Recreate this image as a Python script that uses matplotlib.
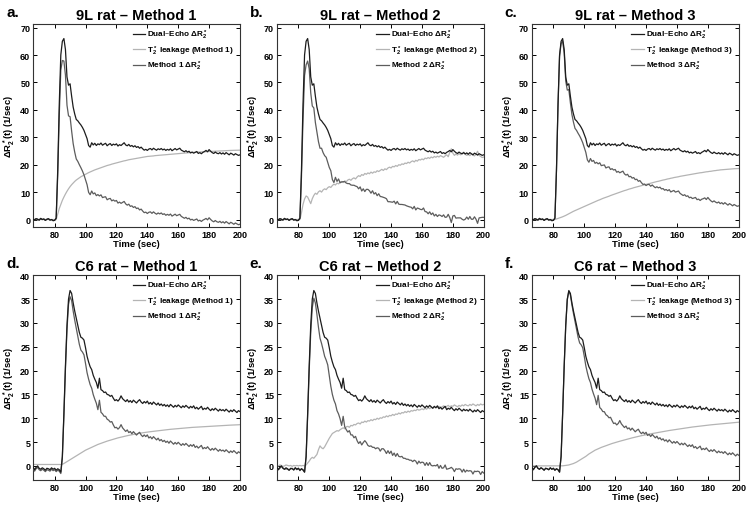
"""Dual-echo vs. corrected dR2* curves for 9L and C6 rats, three leakage methods."""
import numpy as np
import matplotlib
matplotlib.use("Agg")
import matplotlib.pyplot as plt

plt.rcParams['font.family'] = ['Liberation Sans', 'DejaVu Sans']
plt.rcParams['font.weight'] = 'bold'
plt.rcParams['axes.titleweight'] = 'bold'
plt.rcParams['axes.labelweight'] = 'bold'
plt.rcParams['mathtext.default'] = 'regular'

# sampling times (sec), one point per second
time_sec = np.arange(66, 201)

# dual-echo dR2* of the 9L rat (same curve in panels a-c)
dual_9l = np.array([
    0.2, -0.1, 0.3, 0.1, -0.2, 0.4, 0.0, 0.2, -0.3, 0.1, 0.3, -0.2, 0.0, -0.4,
    -0.3, 0.5, 18.0, 42.0, 60.0, 65.0, 66.0, 62.0, 52.0, 49.0,
    49.5, 45.0, 41.0, 38.5, 36.5, 36.0, 35.2, 34.5, 33.6, 32.5,
    31.0, 29.5, 27.0, 26.4, 28.0, 27.2, 27.8, 27.0, 27.6, 27.3,
    27.9, 27.1, 27.5, 27.8, 26.9, 27.4, 27.7, 27.0, 27.5, 27.2,
    27.6, 26.8, 27.3, 27.0, 27.5, 28.0, 27.2, 26.9, 27.4, 26.7,
    27.0, 26.5, 26.9, 26.3, 26.6, 26.0, 26.4, 25.8, 25.3, 25.6,
    25.2, 25.7, 25.9, 25.4, 26.0, 25.6, 25.3, 25.8, 25.5, 25.9,
    25.4, 25.7, 25.2, 25.6, 25.3, 25.8, 25.1, 25.5, 25.9, 25.4,
    25.7, 26.0, 25.3, 25.0, 24.7, 25.1, 24.6, 24.9, 24.3, 24.6,
    24.2, 24.5, 24.8, 24.1, 24.4, 24.0, 24.5, 24.8, 25.2, 24.7,
    25.5, 24.9, 24.4, 24.1, 24.6, 24.2, 24.0, 24.4, 23.9, 24.3,
    23.8, 24.4, 24.0, 23.6, 24.2, 23.9, 23.5, 24.0, 23.7, 23.4, 23.6])

# T2* leakage estimates, 9L rat
leak_9l_m1 = np.array([
    0, 0, 0, 0, 0, 0, 0, 0, 0, 0, 0, 0, 0, 0,
    0, 0, 2.0, 4.0, 5.5, 7.0, 8.2, 9.3, 10.3, 11.2,
    12.0, 12.7, 13.3, 13.9, 14.4, 14.8, 15.2, 15.6, 15.9, 16.2,
    16.5, 16.8, 17.1, 17.35, 17.6, 17.85, 18.1, 18.3, 18.5, 18.7,
    18.9, 19.1, 19.3, 19.5, 19.7, 19.85, 20.0, 20.2, 20.35, 20.5,
    20.65, 20.8, 20.95, 21.1, 21.25, 21.4, 21.5, 21.65, 21.8, 21.9,
    22.0, 22.1, 22.2, 22.3, 22.4, 22.5, 22.6, 22.7, 22.8, 22.9,
    23.0, 23.05, 23.1, 23.15, 23.2, 23.3, 23.35, 23.4, 23.45, 23.5,
    23.55, 23.6, 23.65, 23.7, 23.75, 23.8, 23.85, 23.9, 23.95, 24.0,
    24.05, 24.1, 24.15, 24.2, 24.25, 24.3, 24.35, 24.4, 24.45, 24.5,
    24.52, 24.55, 24.6, 24.62, 24.65, 24.7, 24.72, 24.75, 24.8, 24.82,
    24.85, 24.88, 24.9, 24.93, 24.96, 25.0, 25.02, 25.05, 25.08, 25.1,
    25.12, 25.14, 25.16, 25.18, 25.2, 25.22, 25.24, 25.26, 25.28, 25.3, 25.3])

leak_9l_m2 = np.array([
    0, 0, 0, 0, 0, 0, 0, 0, 0, 0, 0, 0, 0, 0,
    0, 0, 2.5, 5.5, 7.5, 8.6, 8.2, 7.0, 5.8, 7.6,
    8.8, 9.6, 9.2, 10.1, 10.5, 10.0, 10.8, 11.2, 10.9, 11.6,
    12.0, 11.7, 12.4, 12.9, 12.6, 13.3, 13.0, 13.6, 13.9, 13.5,
    14.1, 13.8, 14.4, 14.7, 14.3, 14.9, 15.2, 14.8, 15.5, 16.0,
    15.7, 16.4, 16.1, 16.8, 16.5, 17.0, 16.7, 17.3, 16.9, 17.4,
    17.2, 17.8, 17.5, 17.9, 18.3, 17.9, 18.5, 18.2, 18.8, 19.1,
    18.8, 19.4, 19.2, 19.7, 19.4, 20.0, 19.8, 20.3, 20.1, 20.6,
    20.4, 20.9, 20.6, 21.1, 21.4, 21.0, 21.6, 21.3, 21.9, 21.7,
    22.1, 21.8, 22.4, 22.2, 22.6, 22.3, 22.8, 22.5, 23.0, 22.7,
    23.1, 22.8, 23.3, 23.0, 22.7, 23.2, 23.6, 22.9, 24.5, 25.8,
    24.2, 23.4, 23.9, 23.5, 24.0, 23.6, 23.9, 24.6, 23.8, 23.4,
    23.7, 23.3, 23.9, 23.5, 23.2, 23.8, 24.9, 23.4, 23.0, 22.6, 22.8])

leak_9l_m3 = np.array([
    0, 0, 0, 0, 0, 0, 0, 0, 0, 0, 0, 0, 0, 0,
    0, 0, 0.2, 0.4, 0.6, 0.8, 1.0, 1.25, 1.5, 1.8,
    2.1, 2.4, 2.7, 3.0, 3.25, 3.5, 3.75, 4.0, 4.25, 4.5,
    4.75, 5.0, 5.25, 5.5, 5.75, 6.0, 6.25, 6.5, 6.75, 7.0,
    7.2, 7.45, 7.7, 7.9, 8.1, 8.3, 8.5, 8.75, 8.95, 9.15,
    9.35, 9.55, 9.75, 9.95, 10.15, 10.35, 10.55, 10.7, 10.9, 11.1,
    11.25, 11.4, 11.6, 11.75, 11.9, 12.05, 12.2, 12.35, 12.5, 12.65,
    12.8, 12.95, 13.1, 13.25, 13.4, 13.55, 13.7, 13.85, 13.95, 14.1,
    14.25, 14.4, 14.5, 14.65, 14.8, 14.9, 15.05, 15.15, 15.3, 15.4,
    15.5, 15.6, 15.75, 15.85, 15.95, 16.05, 16.15, 16.25, 16.35, 16.45,
    16.55, 16.65, 16.75, 16.85, 16.95, 17.05, 17.1, 17.2, 17.3, 17.4,
    17.45, 17.55, 17.6, 17.7, 17.8, 17.85, 17.95, 18.0, 18.1, 18.15,
    18.2, 18.25, 18.3, 18.35, 18.4, 18.45, 18.5, 18.52, 18.55, 18.58, 18.6])

# dual-echo dR2* of the C6 rat (same curve in panels d-f)
dual_c6 = np.array([
    -0.2, -0.8, -0.3, 0.0, -0.5, -0.7, -0.4, -0.6, -0.9, -0.5, -0.6, -0.8, -0.4, -0.7,
    -0.5, -0.9, -0.6, -0.8, -1.3, 2.0, 11.0, 21.0, 29.5, 35.0,
    36.8, 36.2, 34.2, 32.5, 31.0, 29.5, 28.0, 27.0, 26.8, 26.4,
    24.8, 23.0, 21.8, 20.8, 20.2, 19.0, 18.2, 17.5, 16.3, 18.4,
    16.0, 15.8, 15.4, 15.5, 15.0, 14.9, 14.6, 14.8, 14.2, 13.7,
    13.9, 13.6, 14.0, 14.7, 14.1, 13.8, 13.5, 13.9, 13.4, 13.7,
    13.3, 13.8, 13.5, 13.2, 13.6, 13.9, 13.4, 13.1, 13.5, 13.2,
    13.6, 13.0, 13.3, 12.9, 13.4, 13.1, 12.8, 13.2, 12.7, 13.0,
    12.6, 12.9, 12.5, 12.8, 12.4, 12.9, 12.6, 12.3, 12.7, 12.4,
    12.8, 12.5, 12.2, 12.6, 12.3, 12.7, 12.4, 12.1, 12.5, 12.2,
    12.6, 12.0, 12.3, 11.9, 12.2, 12.5, 11.8, 12.1, 11.9, 12.3,
    11.9, 11.6, 12.0, 11.7, 12.1, 11.8, 11.5, 11.9, 11.6, 11.8,
    11.5, 11.9, 11.6, 11.3, 11.7, 11.4, 11.8, 11.5, 11.2, 11.6, 11.4])

# T2* leakage estimates, C6 rat
leak_c6_m1 = np.array([
    0.3, 0.3, 0.3, 0.3, 0.3, 0.3, 0.3, 0.3, 0.3, 0.3, 0.3, 0.3, 0.3, 0.3,
    0.3, 0.3, 0.3, 0.3, 0.3, 0.35, 0.5, 0.7, 0.9, 1.1,
    1.3, 1.5, 1.7, 1.9, 2.1, 2.3, 2.5, 2.7, 2.9, 3.1,
    3.3, 3.45, 3.6, 3.75, 3.9, 4.05, 4.2, 4.35, 4.5, 4.62,
    4.75, 4.87, 4.98, 5.09, 5.2, 5.3, 5.4, 5.5, 5.6, 5.7,
    5.8, 5.88, 5.96, 6.04, 6.12, 6.2, 6.27, 6.34, 6.41, 6.48,
    6.55, 6.61, 6.67, 6.73, 6.79, 6.85, 6.9, 6.95, 7.0, 7.05,
    7.1, 7.14, 7.18, 7.22, 7.26, 7.3, 7.34, 7.38, 7.42, 7.46,
    7.5, 7.54, 7.57, 7.61, 7.64, 7.68, 7.71, 7.75, 7.78, 7.82,
    7.85, 7.88, 7.9, 7.93, 7.95, 7.98, 8.0, 8.03, 8.05, 8.08,
    8.1, 8.12, 8.14, 8.16, 8.18, 8.2, 8.22, 8.24, 8.26, 8.28,
    8.3, 8.32, 8.34, 8.36, 8.38, 8.4, 8.42, 8.44, 8.46, 8.48,
    8.5, 8.51, 8.53, 8.54, 8.56, 8.57, 8.59, 8.6, 8.62, 8.63, 8.65])

leak_c6_m2 = np.array([
    0.1, 0.0, 0.2, 0.1, -0.1, 0.0, 0.2, 0.1, 0.0, 0.1, -0.1, 0.1, 0.0, 0.1,
    0.0, 0.1, 0.0, 0.1, 0.0, 0.2, 0.6, 1.0, 1.5, 1.8,
    1.6, 2.0, 2.4, 3.4, 4.2, 3.8, 3.6, 4.0, 4.6, 5.2,
    5.8, 6.3, 6.8, 7.0, 7.2, 7.4, 7.3, 7.6, 7.8, 8.0,
    7.8, 8.2, 8.3, 8.1, 8.5, 8.4, 8.7, 8.6, 8.9, 9.0,
    8.8, 9.2, 9.1, 9.4, 9.2, 9.5, 9.4, 9.7, 9.5, 9.8,
    9.7, 10.0, 9.8, 10.1, 10.0, 10.3, 10.2, 10.5, 10.3, 10.6,
    10.5, 10.8, 10.6, 10.9, 10.8, 11.1, 10.9, 11.2, 11.1, 11.4,
    11.2, 11.5, 11.3, 11.6, 11.5, 11.7, 11.6, 11.9, 11.7, 11.8,
    12.0, 11.8, 12.1, 11.9, 12.2, 12.0, 12.3, 12.1, 12.4, 12.2,
    12.3, 12.5, 12.2, 12.4, 12.6, 12.3, 12.5, 12.7, 12.4, 12.6,
    12.5, 12.8, 12.6, 12.4, 12.7, 12.5, 12.8, 12.6, 12.9, 12.7,
    12.6, 12.9, 12.7, 13.0, 12.8, 12.6, 12.9, 12.7, 13.0, 12.8, 12.9])

leak_c6_m3 = np.array([
    0, 0, 0, 0, 0, 0, 0, 0, 0, 0, 0, 0, 0, 0,
    0, 0, 0, 0, 0, 0, 0.02, 0.05, 0.1, 0.15,
    0.2, 0.3, 0.4, 0.5, 0.65, 0.8, 1.0, 1.2, 1.4, 1.6,
    1.8, 2.0, 2.25, 2.5, 2.7, 2.9, 3.1, 3.3, 3.45, 3.6,
    3.75, 3.88, 4.0, 4.13, 4.26, 4.38, 4.5, 4.6, 4.7, 4.8,
    4.9, 5.0, 5.09, 5.18, 5.27, 5.36, 5.45, 5.54, 5.63, 5.72,
    5.8, 5.88, 5.96, 6.04, 6.12, 6.2, 6.27, 6.34, 6.41, 6.48,
    6.55, 6.61, 6.67, 6.73, 6.79, 6.85, 6.91, 6.97, 7.03, 7.09,
    7.15, 7.21, 7.27, 7.33, 7.38, 7.43, 7.48, 7.53, 7.58, 7.63,
    7.68, 7.73, 7.78, 7.83, 7.88, 7.93, 7.98, 8.03, 8.08, 8.12,
    8.16, 8.2, 8.24, 8.28, 8.32, 8.36, 8.4, 8.44, 8.48, 8.52,
    8.55, 8.58, 8.62, 8.65, 8.68, 8.72, 8.75, 8.78, 8.81, 8.84,
    8.87, 8.9, 8.93, 8.96, 8.99, 9.02, 9.05, 9.08, 9.11, 9.14, 9.17])

rat_names = ['9L rat', 'C6 rat']
method_names = ['Method 1', 'Method 2', 'Method 3']
panel_letters = [['a.', 'b.', 'c.'], ['d.', 'e.', 'f.']]
dual_curves = [dual_9l, dual_c6]
leak_curves = [[leak_9l_m1, leak_9l_m2, leak_9l_m3],
               [leak_c6_m1, leak_c6_m2, leak_c6_m3]]
x_ticks = [80, 100, 120, 140, 160, 180, 200]
y_ticks = [[0, 10, 20, 30, 40, 50, 60, 70], [0, 5, 10, 15, 20, 25, 30, 35, 40]]
y_limits = [(-2.8, 71.2), (-3.0, 40.0)]

col_left = [0.044, 0.369, 0.709]
row_bottom = [0.549, 0.049]
row_height = [0.401, 0.405]
panel_width = 0.276

DUAL_COLOR = '#1c1c1c'
LEAK_COLOR = '#b4b4b4'
METHOD_COLOR = '#5c5c5c'


def draw_panel(ax, dual, leak, rat, method, letter, yt, ylim):

    """Draw one dR2* panel: dual-echo, leakage, and corrected curve"""

    corrected = dual - leak  # method dR2* = dual-echo minus leakage
    ax.plot(time_sec, dual, color=DUAL_COLOR, lw=0.9, zorder=4,
            label='Dual\u2013Echo \u0394$R_2^*$')
    ax.plot(time_sec, leak, color=LEAK_COLOR, lw=0.9, zorder=2,
            label='$T_2^*$ leakage (' + method + ')')
    ax.plot(time_sec, corrected, color=METHOD_COLOR, lw=0.9, zorder=3,
            label=method + ' \u0394$R_2^*$')

    ax.set_xlim(66, 200)
    ax.set_ylim(*ylim)
    ax.set_xticks(x_ticks)
    ax.set_yticks(yt)
    ax.tick_params(direction='in', length=3, width=0.7, labelsize=6.5,
                   top=True, right=True, pad=2)
    for lbl in ax.get_xticklabels() + ax.get_yticklabels():
        lbl.set_fontweight('bold')
    for spine in ax.spines.values():
        spine.set_linewidth(0.8)
        spine.set_color('#333333')

    ax.set_xlabel('Time (sec)', fontsize=6.8, fontweight='bold', labelpad=0)
    ax.set_ylabel('\u0394$R_2^*$(t) (1/sec)', fontsize=6.8, fontweight='bold', labelpad=2)
    ax.set_title(rat + ' \u2013 ' + method, fontsize=10.5, fontweight='bold', pad=4)
    ax.text(-0.13, 1.025, letter, transform=ax.transAxes, fontsize=11,
            fontweight='bold', ha='left', va='bottom')

    leg = ax.legend(loc='upper right', bbox_to_anchor=(1.0, 1.01), frameon=False,
                    fontsize=5.9, handlelength=1.5, handletextpad=0.3,
                    labelspacing=0.25, borderaxespad=0.3)
    for txt in leg.get_texts():
        txt.set_fontweight('bold')


fig = plt.figure(figsize=(7.5, 5.06), dpi=100)
for r in range(2):
    for c in range(3):
        ax = fig.add_axes([col_left[c], row_bottom[r], panel_width, row_height[r]])
        draw_panel(ax, dual_curves[r], leak_curves[r][c], rat_names[r],
                   method_names[c], panel_letters[r][c], y_ticks[r], y_limits[r])

fig.savefig('out.png', dpi=100)
